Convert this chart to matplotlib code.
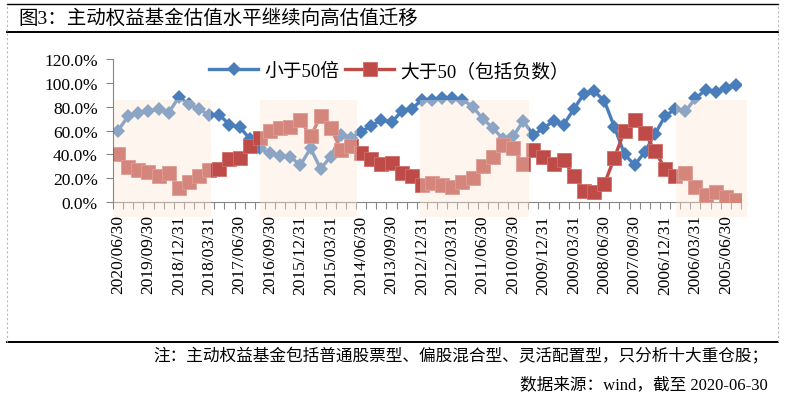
import matplotlib
matplotlib.use("Agg")
from matplotlib import pyplot as plt
from matplotlib.patches import Rectangle
from matplotlib.lines import Line2D
import pandas as pd

plt.rcParams['font.family'] = ['Liberation Serif', 'Noto Sans CJK SC']

# quarter ends, newest first (2020/06/30 ... 2005/03/31)
quarters = [d.strftime('%Y/%m/%d') for d in pd.date_range('2005-03-31', '2020-06-30', freq='QE')[::-1]]

below_50 = [60, 72, 75, 76, 78, 75, 88, 82, 78, 73, 73, 65, 63, 53,
            45, 41, 39, 38, 31, 45, 28, 38, 56, 54, 59, 64, 69, 67,
            76, 78, 86, 86, 87, 87, 86, 80, 70, 62, 53, 55, 68, 56,
            62, 68, 65, 78, 91, 93, 85, 63, 40, 31, 42, 57, 72, 78,
            76, 87, 94, 92, 96, 98]
above_50 = [40, 29, 27, 25, 22, 24, 12, 17, 22, 27, 28, 36, 37, 47,
            54, 60, 62, 63, 69, 55, 72, 62, 44, 47, 41, 36, 32, 33,
            24, 22, 14, 16, 14, 13, 17, 20, 30, 38, 48, 45, 32, 44,
            38, 32, 35, 22, 9, 8, 15, 37, 60, 69, 58, 43, 28, 22,
            24, 13, 6, 8, 4, 2]

# highlighted periods (category index ranges)
shade_spans = [(-0.45, 9.2), (14.0, 23.6), (29.8, 40.6), (55.1, 62.1)]

title = '图3：主动权益基金估值水平继续向高估值迁移'
note = '注：主动权益基金包括普通股票型、偏股混合型、灵活配置型，只分析十大重仓股；'
source = '数据来源：wind，截至 2020-06-30'

fig = plt.figure(figsize=(7.85, 4.02), dpi=100)
ax = fig.add_axes([113 / 785, 1 - 203 / 402, 628 / 785, 143 / 402])

x = list(range(len(quarters)))
ax.plot(x, below_50, color='#4A7EBB', lw=2.4, marker='D', ms=7.5, mew=0, label='小于50倍', zorder=3)
ax.plot(x, above_50, color='#BE4B48', lw=2.4, marker='s', ms=9.5, mew=0.6, mec='#CF6F6C', label='大于50（包括负数）', zorder=3)

for a, b in shade_spans:
    ax.add_patch(Rectangle((a, -12.7), b - a, 98.3, facecolor=(250 / 255, 231 / 255, 212 / 255),
                           alpha=0.38, edgecolor='none', clip_on=False, zorder=5))

ax.set_xlim(-0.5, len(quarters) - 0.5)
ax.set_ylim(0, 120)
ax.set_yticks(range(0, 121, 20))
ax.set_yticklabels([f'{v:.1f}%' for v in range(0, 121, 20)], fontsize=12.5)
ax.set_xticks(x[::3])
ax.set_xticklabels(quarters[::3], rotation=90, fontsize=12.5)
ax.set_xticks([i - 0.5 for i in range(len(quarters) + 1)], minor=True)
ax.tick_params(axis='x', which='major', length=0, pad=9)
ax.tick_params(axis='x', which='minor', length=5, color='#868686', width=0.8)
ax.tick_params(axis='y', length=5, color='#868686', width=0.8, pad=6)

for s in ['top', 'right']:
    ax.spines[s].set_visible(False)
for s in ['left', 'bottom']:
    ax.spines[s].set_color('#868686')
    ax.spines[s].set_linewidth(0.8)

leg = ax.legend(loc='center', bbox_to_anchor=(0.44, 0.916), ncol=2, frameon=False,
                fontsize=13.5, handlelength=2.6, columnspacing=0.3, handletextpad=0.35)
leg.set_zorder(10)

# frame around the figure
fig.add_artist(Line2D([7 / 785, 778 / 785], [1 - 5 / 402] * 2, color='black', lw=1.0))
fig.add_artist(Line2D([7 / 785, 778 / 785], [1 - 33 / 402] * 2, color='black', lw=1.4))
fig.add_artist(Line2D([7 / 785, 778 / 785], [1 - 343 / 402] * 2, color='black', lw=1.4))
for xp in [7 / 785, 778 / 785]:
    fig.add_artist(Line2D([xp, xp], [1 - 343 / 402, 1 - 5 / 402], color='#BBBBBB', lw=0.8, ls=(0, (2, 2))))

fig.text(18 / 785, 1 - 19 / 402, title, fontsize=14, va='center', ha='left')
fig.text(768 / 785, 1 - 357 / 402, note, fontsize=12, va='center', ha='right')
fig.text(768 / 785, 1 - 385 / 402, source, fontsize=12, va='center', ha='right')

fig.savefig('out.png', dpi=100)
